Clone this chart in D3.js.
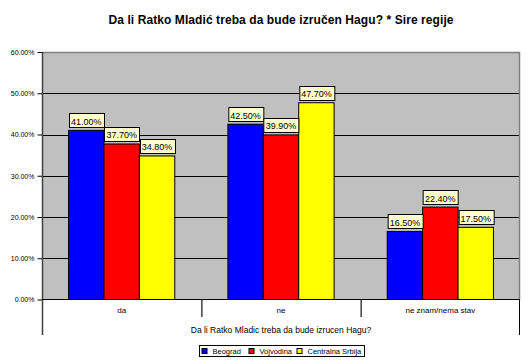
<!DOCTYPE html>
<html><head><meta charset="utf-8">
<script src="https://cdn.jsdelivr.net/npm/d3@7"></script>
<style>body{margin:0;background:#fff}svg{display:block}text{font-family:"Liberation Sans",Arial,sans-serif}</style>
</head><body><div id="c"></div>
<script>
const categories = ["da", "ne", "ne znam/nema stav"];
const series = ["Beograd", "Vojvodina", "Centralna Srbija"];
const colors = ["#0000FF", "#FF0000", "#FFFF00"];
const beograd = [41.0, 42.5, 16.5];
const vojvodina = [37.7, 39.9, 22.4];
const centralna = [34.8, 47.7, 17.5];
const yTicks = [0, 10, 20, 30, 40, 50, 60];
const titleText = "Da li Ratko Mladić treba da bude izručen Hagu? * Sire regije";
const axisTitle = "Da li Ratko Mladic treba da bude izrucen Hagu?";

const values = [beograd, vojvodina, centralna];
const W = 530, H = 364;
const L = 42, R = 520, T = 52, B = 299.5;
const svg = d3.select("#c").append("svg").attr("width", W).attr("height", H);

const x0 = d3.scaleBand().domain(categories).range([L, R]).paddingInner(0).paddingOuter(0);
const y = d3.scaleLinear().domain([0, 60]).range([B, T]);
const x1 = d3.scaleBand().domain(series).range([0, x0.bandwidth()]).paddingOuter(0.75).paddingInner(0);

// title
svg.append("text").attr("x", 281).attr("y", 24).attr("text-anchor", "middle")
  .attr("font-size", 12).attr("font-weight", "bold").attr("textLength", 345).attr("lengthAdjust", "spacing").text(titleText);

// plot bg
svg.append("rect").attr("x", L).attr("y", T).attr("width", R - L).attr("height", B - T).attr("fill", "#C0C0C0");
// gridlines
svg.append("g").selectAll("line").data(yTicks.filter(d => d > 0 && d < 60)).join("line")
  .attr("x1", L).attr("x2", R).attr("y1", d => Math.round(y(d)) + 0.5).attr("y2", d => Math.round(y(d)) + 0.5)
  .attr("stroke", "#000").attr("stroke-width", 1);
// border top/right
svg.append("path").attr("d", `M${L},${T + 0.5}H${R - 0.5}V${B}`).attr("fill", "none").attr("stroke", "#808080").attr("stroke-width", 1.5);

// bars
const groups = svg.append("g").selectAll("g").data(categories).join("g")
  .attr("transform", d => `translate(${x0(d)},0)`);
groups.selectAll("rect").data((d, i) => series.map((s, j) => ({ s, j, v: values[j][i] }))).join("rect")
  .attr("x", d => x1(d.s)).attr("width", x1.bandwidth())
  .attr("y", d => y(d.v)).attr("height", d => B - y(d.v))
  .attr("fill", d => colors[d.j]).attr("stroke", "#000").attr("stroke-width", 1);

// labels
groups.each(function (c, i) {
  const g = d3.select(this);
  series.forEach((s, j) => {
    const v = values[j][i];
    const cx = x1(s) + x1.bandwidth() / 2;
    const txt = v.toFixed(2) + "%";
    const lg = g.append("g");
    const t = lg.append("text").attr("x", cx).attr("y", y(v) - 5.5).attr("text-anchor", "middle")
      .attr("font-size", 9).text(txt);
    const bb = t.node().getBBox();
    lg.insert("rect", "text").attr("x", Math.round(cx - bb.width / 2 - 2) + 0.5).attr("y", Math.round(y(v) - 17) + 0.5)
      .attr("width", Math.round(bb.width + 4)).attr("height", 14)
      .attr("fill", "#FFFFCC").attr("stroke", "#000").attr("stroke-width", 1);
  });
});

// y axis
const yAxis = d3.axisLeft(y).tickValues(yTicks).tickSize(5).tickFormat(d => d.toFixed(2) + "%");
const ya = svg.append("g").attr("transform", `translate(${L + 0.5},0)`).call(yAxis);
ya.select(".domain").remove();
ya.selectAll(".tick line").attr("stroke", "#000");
ya.selectAll(".tick text").attr("font-size", 7).attr("font-family", "Liberation Sans, Arial").attr("x", -8).attr("fill", "#000");
svg.append("line").attr("x1", L + 0.5).attr("x2", L + 0.5).attr("y1", T).attr("y2", 335).attr("stroke", "#404040").attr("stroke-width", 1.5);
svg.append("line").attr("x1", R - 0.5).attr("x2", R - 0.5).attr("y1", B).attr("y2", 335).attr("stroke", "#000").attr("stroke-width", 1);
// baseline
svg.append("line").attr("x1", L).attr("x2", R).attr("y1", B).attr("y2", B).attr("stroke", "#000").attr("stroke-width", 1);

// category axis
const xa = d3.axisBottom(x0).tickSize(0);
const xg = svg.append("g").attr("transform", `translate(0,${B})`).call(xa);
xg.select(".domain").remove();
xg.selectAll(".tick text").attr("font-size", 8).attr("dy", 0).attr("y", 13.5).attr("fill", "#000").attr("font-family", "Liberation Sans, Arial");
svg.append("g").selectAll("line").data(categories.slice(1)).join("line")
  .attr("x1", d => x0(d) + 0.5).attr("x2", d => x0(d) + 0.5).attr("y1", B).attr("y2", 317)
  .attr("stroke", "#404040").attr("stroke-width", 1.5);
svg.append("text").attr("x", 281).attr("y", 333).attr("text-anchor", "middle").attr("font-size", 8.5).text(axisTitle);

// legend
const lgX = 199, lgY = 345.5;
const legend = svg.append("g");
legend.append("rect").attr("x", lgX + 0.5).attr("y", lgY).attr("width", 165).attr("height", 11).attr("fill", "#fff").attr("stroke", "#000");
const offs = [2.5, 49.5, 97.5];
series.forEach((s, j) => {
  legend.append("rect").attr("x", lgX + offs[j] + 0.5).attr("y", lgY + 3).attr("width", 5).attr("height", 5)
    .attr("fill", colors[j]).attr("stroke", "#000");
  legend.append("text").attr("x", lgX + offs[j] + 11).attr("y", lgY + 8.5).attr("font-size", 7.5).text(s);
});
</script></body></html>
